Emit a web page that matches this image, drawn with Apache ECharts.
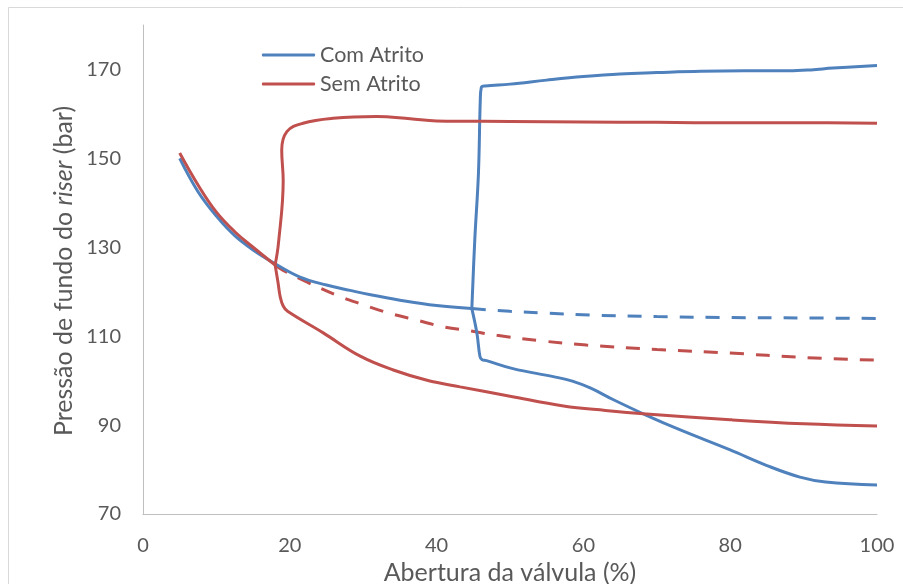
<!DOCTYPE html>
<html>
<head>
<meta charset="utf-8">
<script src="https://cdn.jsdelivr.net/npm/echarts@6/dist/echarts.min.js"></script>
<style>
html,body{margin:0;padding:0;background:#fff;}
#chart{width:903px;height:584px;}
</style>
</head>
<body>
<div id="chart"></div>
<script>
// X ticks / Y ticks
var xTicks = [0, 20, 40, 60, 80, 100];
var yTicks = [70, 90, 110, 130, 150, 170];

// Com Atrito (blue)
var comEstavel = [[5,150],[7.5,142.5],[10,137],[12.5,132.6],[15,129.4],[18,126.3],[21.4,123.3],[25,121.5],[28.2,120.3],[31,119.3],[35,118.1],[40,116.9],[44.8,116.2]];
var comSuperior = [[44.8,116.2],[45.2,131.6],[45.7,146.6],[45.95,163],[46.1,166],[46.6,166.3],[50,166.7],[55,167.6],[60,168.4],[65,169],[70,169.3],[76,169.6],[82,169.7],[88,169.7],[91,169.9],[94,170.3],[100,170.9]];
var comInferior = [[44.8,116.2],[45.5,110.6],[45.9,105.5],[46.2,104.7],[46.8,104.5],[50.4,102.7],[55.9,100.9],[58.5,99.9],[61,98.3],[64.1,95.7],[68.6,92.2],[73.2,88.9],[80,84.4],[85,80.9],[89.5,78.3],[93,77.2],[100,76.5]];
var comInstavel = [[44.8,116.2],[50,115.6],[55,115.2],[61.8,114.7],[70,114.4],[80,114.2],[90,114.1],[100,114]];

// Sem Atrito (red)
var semEstavel = [[5,151.2],[7.5,144],[10,137.9],[12.5,133.5],[15,130],[18,126]];
var semSuperior = [[18,126],[18.45,130.8],[19.1,145],[18.9,151.8],[19.6,156],[21.8,157.9],[25.9,159],[31.8,159.4],[36.4,158.9],[40,158.4],[50,158.3],[60,158.2],[70,158.1],[80,158],[90,158],[100,157.9]];
var semInferior = [[18,126],[18.4,122],[18.7,118.8],[19.1,116.8],[19.7,115.6],[24.5,110.8],[29.6,105.5],[34.1,102.4],[38.7,100.1],[43.2,98.6],[50,96.5],[57.3,94.3],[63,93.3],[68.6,92.5],[80,91.2],[90,90.3],[100,89.8]];
var semInstavel = [[18,126],[19.1,124.8],[22.3,122.2],[26.4,119.2],[29.6,117.3],[33.7,115.1],[37.3,113.6],[40.9,112.1],[44.5,111.2],[48.2,110.2],[54,109],[60.4,108],[70,107],[80,106.2],[90,105.2],[100,104.6]];

var BLUE = '#4f81bd', RED = '#c0504d', TXT = '#595959', FONT = 'Lato';

function mk(name, data, color, dashed) {
  return {
    name: name, type: 'line', data: data, symbol: 'none', smooth: 0.4,
    lineStyle: {color: color, width: 3, type: dashed ? [14, 12] : 'solid'},
    itemStyle: {color: color}, z: dashed ? 2 : 3, animation: false
  };
}

var chart = echarts.init(document.getElementById('chart'));
chart.setOption({
  animation: false,
  backgroundColor: '#fff',
  textStyle: {fontFamily: FONT},
  graphic: [
    {type: 'rect', shape: {x: 8.5, y: 7.5, width: 910, height: 600}, style: {fill: 'none', stroke: '#d9d9d9', lineWidth: 1}, silent: true},
    {type: 'text', x: 64, y: 271, rotation: Math.PI / 2, silent: true,
      style: {text: 'Pressão de fundo do {i|riser} (bar)', fontSize: 25, fontFamily: FONT, fill: TXT,
        align: 'center', verticalAlign: 'middle',
        rich: {i: {fontStyle: 'italic', fontSize: 25, fontFamily: FONT, fill: TXT}}}}
  ],
  grid: {left: 143, right: 26, top: 25, bottom: 70, containLabel: false, outerBoundsMode: 'none'},
  legend: {
    orient: 'vertical', left: 257, top: 39, itemWidth: 53, itemHeight: 3, itemGap: 7,
    data: [{name: 'Com Atrito', icon: 'roundRect'}, {name: 'Sem Atrito', icon: 'roundRect'}],
    textStyle: {fontFamily: FONT, fontSize: 21.5, lineHeight: 22, color: TXT}
  },
  xAxis: {
    type: 'value', min: 0, max: 100, interval: 20,
    name: 'Abertura da válvula (%)', nameLocation: 'middle', nameGap: 42,
    nameTextStyle: {fontFamily: FONT, fontSize: 25, color: TXT},
    axisLine: {show: true, lineStyle: {color: '#bfbfbf', width: 1}},
    axisTick: {show: false}, splitLine: {show: false},
    axisLabel: {fontFamily: FONT, fontSize: 20, color: TXT, margin: 22,
      formatter: function (v) { return xTicks.indexOf(v) >= 0 ? String(v) : ''; }}
  },
  yAxis: {
    type: 'value', min: 70, max: 180, interval: 20,
    axisLine: {show: true, lineStyle: {color: '#bfbfbf', width: 1}},
    axisTick: {show: false}, splitLine: {show: false},
    axisLabel: {fontFamily: FONT, fontSize: 20, color: TXT, margin: 22, showMaxLabel: false,
      formatter: function (v) { return yTicks.indexOf(v) >= 0 ? String(v) : ''; }}
  },
  series: [
    mk('Com Atrito', comEstavel, BLUE, false),
    mk('Com Atrito', comSuperior, BLUE, false),
    mk('Com Atrito', comInferior, BLUE, false),
    mk('Com Atrito', comInstavel, BLUE, true),
    mk('Sem Atrito', semEstavel, RED, false),
    mk('Sem Atrito', semSuperior, RED, false),
    mk('Sem Atrito', semInferior, RED, false),
    mk('Sem Atrito', semInstavel, RED, true)
  ]
});
</script>
</body>
</html>
